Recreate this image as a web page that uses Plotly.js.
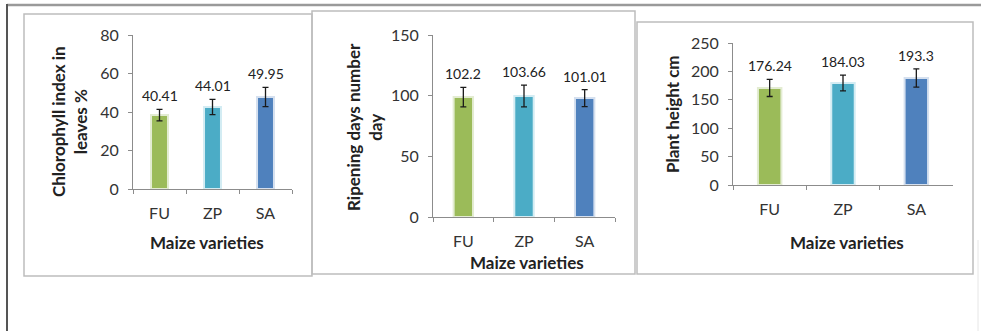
<!DOCTYPE html>
<html>
<head>
<meta charset="utf-8">
<script src="https://cdn.plot.ly/plotly-3.0.1.min.js"></script>
<style>html,body{margin:0;padding:0;background:#fff;}#chart{width:981px;height:331px;}</style>
</head>
<body>
<div id="chart"></div>
<script>
// ---- data ----
var categories = ["FU", "ZP", "SA"];
var barColors = ["#9BBB59", "#4BACC6", "#4F81BD"];
var haloColors = ["#e3ecd2", "#d3ecf3", "#d5e0ef"];

var chlorophyll = [38.4, 42.6, 47.8];
var chlorophyllErr = [3, 4, 5];
var chlorophyllLabels = ["40.41", "44.01", "49.95"];

var ripening = [98.8, 99.7, 98.0];
var ripeningErr = [8, 9, 7];
var ripeningLabels = ["102.2", "103.66", "101.01"];

var height = [170.8, 179.6, 188.4];
var heightErr = [15, 14, 16];
var heightLabels = ["176.24", "184.03", "193.3"];

var yTitles = ["Chlorophyll index in<br>leaves %", "Ripening days number<br>day", "Plant height cm"];
var xTitle = "Maize varieties";

// ---- layout helpers (pixel -> paper) ----
var W = 981, H = 331;
function px(x){ return x / W; }
function py(y){ return 1 - y / H; }

var FONT = "Lato, 'Open Sans', sans-serif";

function barTrace(vals, errs, xa, ya){
  return {
    type: "bar", x: categories, y: vals, xaxis: xa, yaxis: ya,
    width: 0.32,
    marker: {color: barColors, line: {color: haloColors, width: 2}},
    error_y: {type: "data", array: errs, visible: true, color: "#1a1a1a", thickness: 1.3, width: 3},
    hoverinfo: "skip", showlegend: false
  };
}

var data = [
  barTrace(chlorophyll, chlorophyllErr, "x", "y"),
  barTrace(ripening, ripeningErr, "x2", "y2"),
  barTrace(height, heightErr, "x3", "y3")
];

function xAxis(d, anchor){
  return {domain: d, anchor: anchor, type: "category", showline: true, linecolor: "#8c8c8c", linewidth: 1,
    ticks: "outside", tickson: "boundaries", ticklen: 4, tickcolor: "#8c8c8c", showgrid: false, zeroline: false,
    tickfont: {family: FONT, size: 16, color: "#333"}, ticklabelstandoff: 10, fixedrange: true};
}
function yAxis(d, anchor, range, dtick){
  return {domain: d, anchor: anchor, range: range, dtick: dtick, showline: true, linecolor: "#8c8c8c", linewidth: 1,
    ticks: "outside", ticklen: 4, tickcolor: "#8c8c8c", showgrid: false, zeroline: false,
    tickfont: {family: FONT, size: 16, color: "#333"}, ticklabelstandoff: 6, fixedrange: true};
}

var annotations = [];
function addLabels(vals, errs, labels, xa, ya){
  for (var i = 0; i < categories.length; i++){
    annotations.push({x: categories[i], y: vals[i] + errs[i], xref: xa, yref: ya, text: labels[i],
      showarrow: false, xanchor: "center", yanchor: "bottom", yshift: 3, font: {family: FONT, size: 14, color: "#222"}});
  }
}
addLabels(chlorophyll, chlorophyllErr, chlorophyllLabels, "x", "y");
addLabels(ripening, ripeningErr, ripeningLabels, "x2", "y2");
addLabels(height, heightErr, heightLabels, "x3", "y3");

var titleFont = {family: FONT, size: 17, color: "#222"};
function title(x, y, text, angle){
  annotations.push({xref: "paper", yref: "paper", x: px(x), y: py(y), text: "<b>" + text + "</b>",
    textangle: angle, showarrow: false, xanchor: "center", yanchor: "middle", align: "center", font: titleFont});
}
// y titles
title(69, 122, yTitles[0], -90);
title(364, 127, yTitles[1], -90);
title(672, 114, yTitles[2], -90);
// x titles
title(207, 242, xTitle, 0);
title(527, 262, xTitle, 0);
title(847, 242, xTitle, 0);

function rect(x0, y0, x1, y1, color, w){
  return {type: "rect", xref: "paper", yref: "paper", x0: px(x0), x1: px(x1), y0: py(y1), y1: py(y0),
    line: {color: color, width: w}, fillcolor: "rgba(0,0,0,0)", layer: "below"};
}
function line(x0, y0, x1, y1, color, w){
  return {type: "line", xref: "paper", yref: "paper", x0: px(x0), x1: px(x1), y0: py(y0), y1: py(y1),
    line: {color: color, width: w}, layer: "below"};
}

var shapes = [
  line(7, 5, 981, 5, "#9a9a9a", 2.5),
  line(7, 4, 7, 331, "#555555", 2),
  rect(24, 14, 312, 276, "#bdbdbd", 1.5),
  rect(312, 11, 635, 274, "#bdbdbd", 1.5),
  rect(637, 22, 973, 274, "#bdbdbd", 1.5),
  line(978, 240, 978, 331, "#e6e6e6", 1)
];

var layout = {
  width: W, height: H,
  margin: {l: 0, r: 0, t: 0, b: 0},
  paper_bgcolor: "#fff", plot_bgcolor: "rgba(0,0,0,0)",
  showlegend: false,
  xaxis: xAxis([px(133), px(292)], "y"),
  yaxis: yAxis([py(189), py(35)], "x", [0, 80], 20),
  xaxis2: xAxis([px(433), px(615)], "y2"),
  yaxis2: yAxis([py(217), py(35)], "x2", [0, 150], 50),
  xaxis3: xAxis([px(733), px(953)], "y3"),
  yaxis3: yAxis([py(185), py(43)], "x3", [0, 250], 50),
  annotations: annotations,
  shapes: shapes,
  bargap: 0.7
};

Plotly.newPlot("chart", data, layout, {displayModeBar: false, staticPlot: true});
</script>
</body>
</html>
